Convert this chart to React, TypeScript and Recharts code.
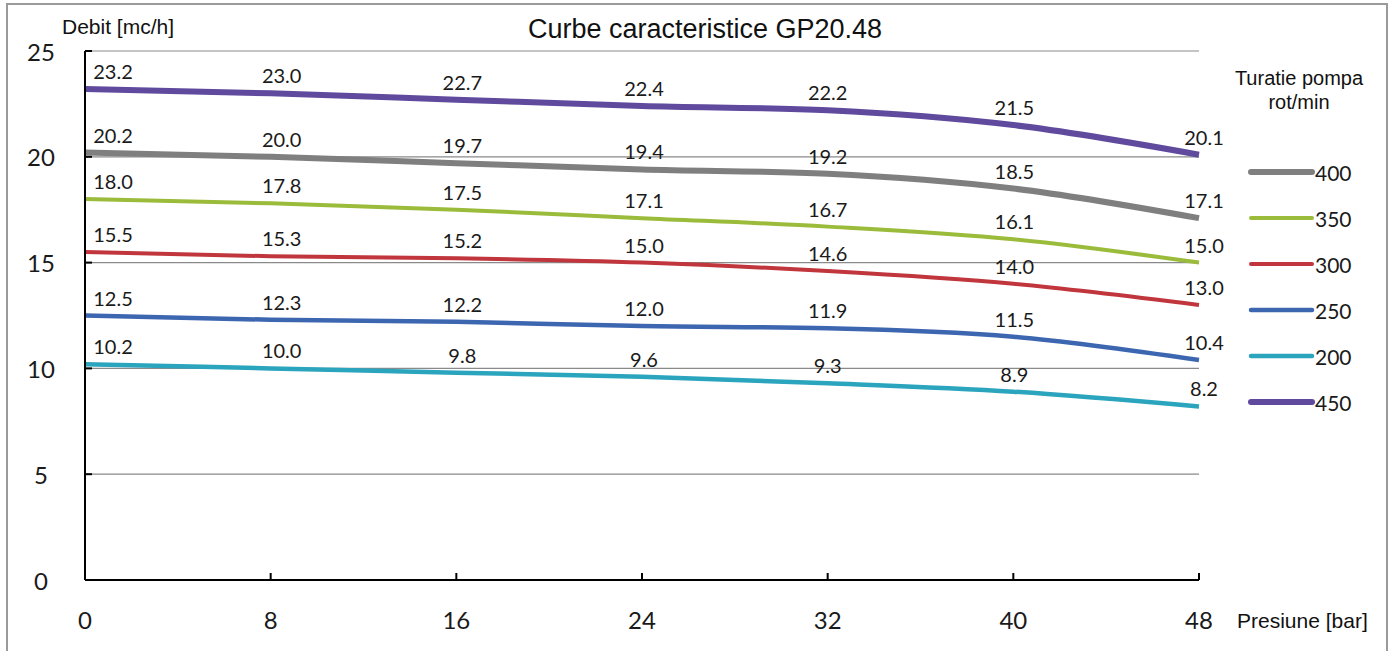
import React from "react";
import { LineChart, Line, XAxis, YAxis, CartesianGrid, LabelList } from "recharts";

const pressures = [0, 8, 16, 24, 32, 40, 48];
const rpm400 = [20.2, 20.0, 19.7, 19.4, 19.2, 18.5, 17.1];
const rpm350 = [18.0, 17.8, 17.5, 17.1, 16.7, 16.1, 15.0];
const rpm300 = [15.5, 15.3, 15.2, 15.0, 14.6, 14.0, 13.0];
const rpm250 = [12.5, 12.3, 12.2, 12.0, 11.9, 11.5, 10.4];
const rpm200 = [10.2, 10.0, 9.8, 9.6, 9.3, 8.9, 8.2];
const rpm450 = [23.2, 23.0, 22.7, 22.4, 22.2, 21.5, 20.1];
const yTicks = [0, 5, 10, 15, 20, 25];
const xTicks = [0, 8, 16, 24, 32, 40, 48];

const title = "Curbe caracteristice GP20.48";
const yTitle = "Debit [mc/h]";
const xTitle = "Presiune [bar]";
const legendTitle = ["Turatie pompa", "rot/min"];

const data = pressures.map((p, i) => ({
  p,
  r400: rpm400[i],
  r350: rpm350[i],
  r300: rpm300[i],
  r250: rpm250[i],
  r200: rpm200[i],
  r450: rpm450[i],
}));

const series = [
  { key: "r400", name: "400", color: "#7f7f7f", width: 6 },
  { key: "r350", name: "350", color: "#9bbb3b", width: 4 },
  { key: "r300", name: "300", color: "#c0363c", width: 4 },
  { key: "r250", name: "250", color: "#3d66b0", width: 4.5 },
  { key: "r200", name: "200", color: "#2ba4bd", width: 4.5 },
  { key: "r450", name: "450", color: "#5f4a9e", width: 6 },
];

const labelDx = [28, 11, 6, 2, 0, 1, 5];
const NUM_FONT = "Lato, 'Open Sans', sans-serif";
const TXT_FONT = "'Liberation Sans', Arial, sans-serif";

const DataLabel = (props: any) => {
  const { x, y, value, index } = props;
  const dx = labelDx[index] ?? 0;
  return (
    <text x={x + dx} y={y - 18} textAnchor="middle" dominantBaseline="central" fontFamily={NUM_FONT} fontSize={20} fill="#1a1a1a">
      {Number(value).toFixed(1)}
    </text>
  );
};

const YTick = (props: any) => {
  const { x, y, payload } = props;
  return (
    <g>
      <line x1={x} y1={y} x2={x + 7} y2={y} stroke="#000" strokeWidth={2} />
      <text x={x - 44} y={y} textAnchor="middle" dominantBaseline="central" fontFamily={NUM_FONT} fontSize={24} fill="#1a1a1a">
        {payload.value}
      </text>
    </g>
  );
};

const XTick = (props: any) => {
  const { x, y, payload } = props;
  return (
    <g>
      <line x1={x} y1={y} x2={x} y2={y - 7} stroke="#000" strokeWidth={2} />
      <text x={x} y={y + 39} textAnchor="middle" dominantBaseline="central" fontFamily={NUM_FONT} fontSize={24} fill="#1a1a1a">
        {payload.value}
      </text>
    </g>
  );
};

export default function App() {
  return (
    <div style={{ position: "absolute", left: 0, top: 0, width: 1395, height: 651, background: "#fff", overflow: "hidden" }}>
      <svg width={1395} height={651} style={{ position: "absolute", left: 0, top: 0 }}>
        <rect x={7} y={4} width={1380} height={660} fill="#fff" stroke="#9a9a9a" strokeWidth={2} />
      </svg>
      <div style={{ position: "absolute", left: 0, top: 0 }}>
        <LineChart width={1395} height={651} data={data} margin={{ top: 51, right: 196, bottom: 0, left: 0 }}>
          <CartesianGrid vertical={false} stroke="#8a8a8a" strokeWidth={1.2} />
          <XAxis
            dataKey="p"
            type="number"
            domain={[0, 48]}
            ticks={xTicks}
            height={71}
            tickSize={0}
            tickMargin={0}
            tickLine={false}
            axisLine={{ stroke: "#000", strokeWidth: 2 }}
            tick={<XTick />}
            interval={0}
          />
          <YAxis
            type="number"
            domain={[0, 25]}
            ticks={yTicks}
            width={85}
            tickSize={0}
            tickMargin={0}
            tickLine={false}
            axisLine={{ stroke: "#000", strokeWidth: 2 }}
            tick={<YTick />}
            interval={0}
          />
          {series.map((s) => (
            <Line
              key={s.key}
              dataKey={s.key}
              name={s.name}
              type="monotone"
              stroke={s.color}
              strokeWidth={s.width}
              dot={false}
              activeDot={false}
              isAnimationActive={false}
            >
              <LabelList dataKey={s.key} content={<DataLabel />} />
            </Line>
          ))}
        </LineChart>
      </div>
      <svg width={1395} height={651} style={{ position: "absolute", left: 0, top: 0, pointerEvents: "none" }}>
        <text x={705} y={29} textAnchor="middle" dominantBaseline="central" fontFamily={TXT_FONT} fontSize={27} fill="#111">
          {title}
        </text>
        <text x={62} y={26} textAnchor="start" dominantBaseline="central" fontFamily={TXT_FONT} fontSize={21} fill="#111">
          {yTitle}
        </text>
        <text x={1237} y={620} textAnchor="start" dominantBaseline="central" fontFamily={TXT_FONT} fontSize={21} fill="#111">
          {xTitle}
        </text>
        <text x={1299} y={78} textAnchor="middle" dominantBaseline="central" fontFamily={TXT_FONT} fontSize={20} fill="#111">
          {legendTitle[0]}
        </text>
        <text x={1299} y={102} textAnchor="middle" dominantBaseline="central" fontFamily={TXT_FONT} fontSize={20} fill="#111">
          {legendTitle[1]}
        </text>
        {series.map((s, i) => {
          const cy = 172 + i * 46;
          return (
            <g key={s.key}>
              <line x1={1251} y1={cy} x2={1312} y2={cy} stroke={s.color} strokeWidth={s.width} strokeLinecap="round" />
              <text x={1315} y={cy} dominantBaseline="central" fontFamily={NUM_FONT} fontSize={21} fill="#1a1a1a">
                {s.name}
              </text>
            </g>
          );
        })}
      </svg>
    </div>
  );
}
